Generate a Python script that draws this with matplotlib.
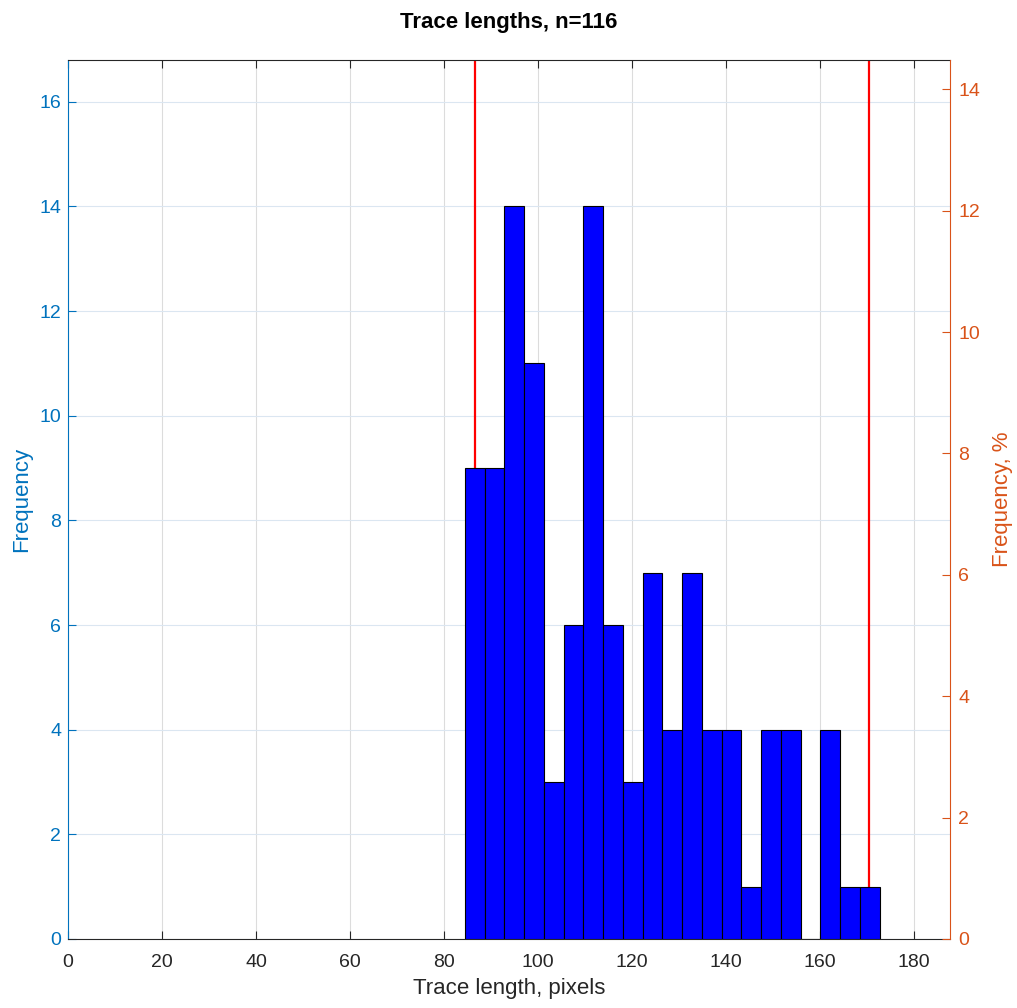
import numpy as np
import matplotlib
matplotlib.use("Agg")
import matplotlib.pyplot as plt

plt.rcParams['font.family'] = ['Liberation Sans', 'DejaVu Sans']

# histogram data
bin_start = 84.47
bin_width = 4.205
counts = [9, 9, 14, 11, 3, 6, 14, 6, 3, 7, 4, 7, 4, 4, 1, 4, 4, 0, 4, 1, 1]
n_total = 116
limits = [86.6, 170.6]   # red marker lines

blue_ax = '#0072BD'
orange_ax = '#D95319'

edges = bin_start + bin_width * np.arange(len(counts) + 1)

fig = plt.figure(figsize=(10.17, 10.08), dpi=100)
ax = fig.add_axes([0.0669, 0.0685, 0.867, 0.872])

ax.bar(edges[:-1], counts, width=bin_width, align='edge',
       color='#0000FF', edgecolor='black', linewidth=0.8, zorder=3)
for v in limits:
    ax.axvline(v, color='red', linewidth=1.6, zorder=2)

ymax = 16.8
ax.set_xlim(0, 187.7)
ax.set_ylim(0, ymax)
ax.set_xticks(np.arange(0, 181, 20))
ax.set_yticks(np.arange(0, 17, 2))

ax.grid(True, axis='x', color='#dcdcdc', linewidth=0.8, zorder=0)
ax.grid(True, axis='y', color='#dbe6f1', linewidth=0.8, zorder=0)

ax.tick_params(axis='both', direction='in', length=6, labelsize=14)
ax.tick_params(axis='x', colors='#262626', top=True, labeltop=False, pad=11)
ax.tick_params(axis='y', colors=blue_ax, right=False, pad=5)
ax.spines['left'].set_color(blue_ax)
ax.spines['bottom'].set_color('#262626')
ax.spines['top'].set_color('#262626')
ax.spines['right'].set_visible(False)

ax.set_xlabel('Trace length, pixels', fontsize=16, color='#262626', labelpad=5)
ax.set_ylabel('Frequency', fontsize=16, color=blue_ax, labelpad=5)
ax.set_title('Trace lengths, n=%d' % n_total, fontsize=16, fontweight='bold', pad=23)

ax2 = ax.twinx()
ax2.set_ylim(0, ymax / n_total * 100)
ax2.set_yticks(np.arange(0, 15, 2))
ax2.tick_params(axis='y', direction='in', length=6, labelsize=14, colors=orange_ax, pad=6)
ax2.spines['right'].set_color(orange_ax)
for s in ['left', 'top', 'bottom']:
    ax2.spines[s].set_visible(False)
ax2.set_ylabel('Frequency, %', fontsize=16, color=orange_ax, labelpad=9)

fig.savefig('out.png', dpi=100)
